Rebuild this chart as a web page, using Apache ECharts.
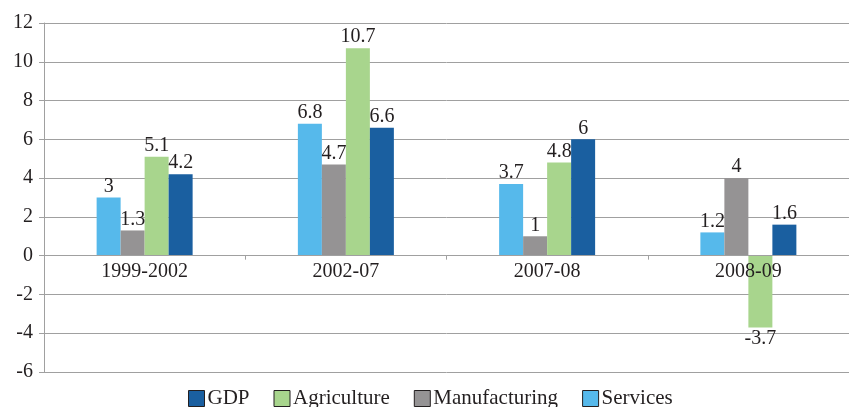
<!DOCTYPE html>
<html>
<head>
<meta charset="utf-8">
<script src="https://cdn.jsdelivr.net/npm/echarts@6/dist/echarts.min.js"></script>
<style>
html, body { margin: 0; padding: 0; background: #fff; }
#chart1 { width: 849px; height: 407px; }
</style>
</head>
<body>
<div id="chart1"></div>
<script>
const categories = ['1999-2002', '2002-07', '2007-08', '2008-09'];
const services = [3, 6.8, 3.7, 1.2];
const manufacturing = [1.3, 4.7, 1, 4];
const agriculture = [5.1, 10.7, 4.8, -3.7];
const gdp = [4.2, 6.6, 6, 1.6];
const yTicks = { min: -6, max: 12, step: 2 };

const font = '"Liberation Serif", "DejaVu Serif", serif';
const gridTop = 23;
const gridHeight = 349;
// shift the category axis up to the zero line
const zeroOffset = -gridHeight * (0 - yTicks.min) / (yTicks.max - yTicks.min);

function bar(name, data, color) {
    return {
        name: name,
        type: 'bar',
        data: data.map(function (v) {
            return v < 0 ? { value: v, label: { position: 'bottom' } } : v;
        }),
        barWidth: 24,
        barGap: '0%',
        itemStyle: { color: color },
        label: {
            show: true,
            position: 'top',
            distance: 1,
            color: '#231f20',
            fontFamily: font,
            fontSize: 20
        }
    };
}

let myChart = echarts.init(document.getElementById('chart1'));
const option = {
    animation: false,
    textStyle: { fontFamily: font },
    grid: { left: 44, top: gridTop, width: 812, height: gridHeight },
    legend: {
        top: 383,
        left: 183,
        itemWidth: 16,
        itemHeight: 16,
        itemGap: 24,
        icon: 'rect',
        data: ['GDP', 'Agriculture', 'Manufacturing', 'Services'],
        textStyle: { fontFamily: font, fontSize: 21, color: '#231f20', padding: [0, 0, 0, -2] },
        itemStyle: { borderColor: '#231f20', borderWidth: 1 }
    },
    xAxis: {
        type: 'category',
        data: categories,
        offset: zeroOffset,
        z: 5,
        axisLine: { onZero: false, lineStyle: { color: '#a0a0a0', width: 1 } },
        axisTick: { show: true, length: 4, lineStyle: { color: '#a0a0a0' } },
        axisLabel: { color: '#231f20', fontFamily: font, fontSize: 20, margin: 6 }
    },
    yAxis: {
        type: 'value',
        min: yTicks.min,
        max: yTicks.max,
        interval: yTicks.step,
        axisLine: { show: true, lineStyle: { color: '#a0a0a0', width: 1 } },
        axisTick: { show: true, length: 5, lineStyle: { color: '#a0a0a0' } },
        splitLine: { lineStyle: { color: '#a0a0a0', width: 1 } },
        axisLabel: { color: '#231f20', fontFamily: font, fontSize: 20, margin: 11 }
    },
    series: [
        bar('Services', services, '#56b9eb'),
        bar('Manufacturing', manufacturing, '#959394'),
        bar('Agriculture', agriculture, '#a8d58d'),
        bar('GDP', gdp, '#1a5fa0')
    ]
};
myChart.setOption(option);
</script>
</body>
</html>
